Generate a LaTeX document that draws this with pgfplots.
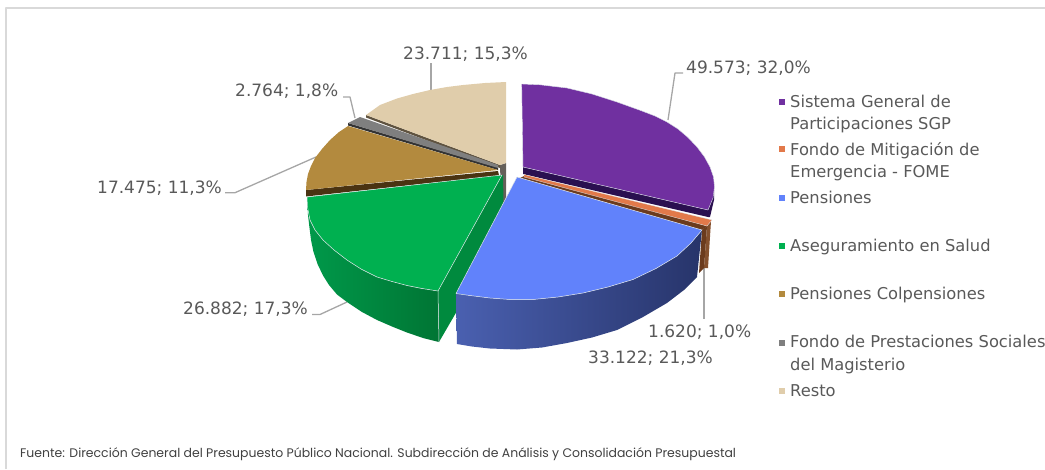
\documentclass[border=0pt]{standalone}
\usepackage{pgfplots}
\usepackage{fontspec}
\pgfplotsset{compat=1.18}
\setmainfont{DejaVu Sans}
\newfontfamily\footfont{Poppins}
\definecolor{txt}{HTML}{595959}
\definecolor{lead}{HTML}{A6A6A6}
\definecolor{edge}{HTML}{DDE3E8}
\definecolor{cPur}{HTML}{7030A0}
\definecolor{cPurD}{HTML}{2A1050}
\definecolor{cOra}{HTML}{E2794A}
\definecolor{cOraD}{HTML}{6B3B1E}
\definecolor{cOraM}{HTML}{84502E}
\definecolor{cBlu}{HTML}{6182FB}
\definecolor{cBluL}{HTML}{4A60B0}
\definecolor{cBluD}{HTML}{27346A}
\definecolor{cGre}{HTML}{00B050}
\definecolor{cGreM}{HTML}{008A3E}
\definecolor{cGreL}{HTML}{00994A}
\definecolor{cGreD}{HTML}{007534}
\definecolor{cGol}{HTML}{B38A3E}
\definecolor{cGolD}{HTML}{4A3312}
\definecolor{cGra}{HTML}{7F7F7F}
\definecolor{cGraD}{HTML}{333333}
\definecolor{cTan}{HTML}{E0CDAB}
\definecolor{cTanD}{HTML}{5F5340}
\definecolor{cTanM}{HTML}{65605A}
\definecolor{frame}{HTML}{D9D9D9}
\tikzset{lab/.style={anchor=base west,text=txt,font=\fontsize{17}{17}\selectfont,inner sep=0pt},
  leg/.style={anchor=base west,text=txt,font=\fontsize{16.3}{16.3}\selectfont,inner sep=0pt}}
\begin{document}
\begin{tikzpicture}[x=1pt,y=1pt]
\path[use as bounding box] (0,0) rectangle (1045pt,469pt);
\begin{axis}[
  at={(0,0)},anchor=south west,
  scale only axis,width=1045pt,height=469pt,
  xmin=0,xmax=1045,ymin=0,ymax=469,y dir=reverse,
  axis lines=none,clip=false,no marks,
  every axis plot/.append style={line join=round},
]
% frame
\addplot[frame,line width=1.5pt] coordinates {(6,469)(6,8)(1045,8)};
% leaders
\addplot[lead,line width=1.3pt] coordinates {(683,73)(675,73)(668,120)};
\addplot[lead,line width=1.3pt] coordinates {(431,63)(431,90)};
\addplot[lead,line width=1.3pt] coordinates {(343,97)(350,97)(355,118)};
\addplot[lead,line width=1.3pt] coordinates {(225,192.7)(235,192.7)(316,157)};
\addplot[lead,line width=1.3pt] coordinates {(312,314.5)(320,314.5)(347,302)};
\addplot[lead,line width=1.3pt] coordinates {(704,268)(704,319)};
% Resto
\addplot[fill=cTanM,draw=none] coordinates {(500,165)(506,163)(506,206)(502,206)(500,168)} --cycle;
\addplot[fill=cTanD,draw=none] coordinates {(366,115)(366,117.5)(500,168)(500,165)} --cycle;
\addplot[fill=cTan,draw=none] coordinates {(366,115)(380,105)(397,98.5)(413,94)(430,90)(447,87)(463,85)(485,83)(506,82)(506,163)(500,165)} --cycle;
% Magisterio
\addplot[fill=cGraD,draw=none] coordinates {(348,123)(348,125.5)(498,170)(498,167.5)} --cycle;
\addplot[fill=cGra,draw=none] coordinates {(348,123)(360,117)(498,165)(498,168)} --cycle;
% Colpensiones
\addplot[fill=cGolD,draw=none] coordinates {(306,190)(306,196.5)(499,175.5)(498,171)} --cycle;
\addplot[fill=cGol,draw=none] coordinates {(498,170)(348,126)(339,132)(330,140)(322,149)(315,158)(311,166)(308,174)(306.5,182)(306,190)} --cycle;
% SGP
\addplot[fill=cPurD,draw=none] coordinates {(708,210)(714,190)(714,200)(710,217)(708,217)} --cycle;
\addplot[fill=cPurD,draw=none] coordinates {(523,167)(708,210)(708,217)(523,174)} --cycle;
\addplot[fill=cPur,draw=edge,line width=0.4pt] coordinates {(523,167)(521.7,84)(540,84.8)(567,88)(592,94)(617,102)(642,111)(655,116)(667,122)(678,129)(688,137.5)(697,147)(704.5,157)(710,167)(713.5,177)(714.5,187)(713,198)(708,210)} --cycle;
% FOME
\addplot[fill=cOraM,draw=none] coordinates {(707,226)(711,221)(708,268)(704,268)} --cycle;
\addplot[fill=cOraD,draw=none] coordinates {(702,230)(707,226)(704,268)(699,273)} --cycle;
\addplot[fill=cOraD,draw=none] coordinates {(524,176)(707,226)(702,230)(520,178)} --cycle;
\addplot[fill=cOra,draw=edge,line width=0.3pt] coordinates {(524,174.5)(712,220)(707,226)(524,177)} --cycle;
% Salud
\addplot[fill=cGreM,draw=none] coordinates {(502,175)(438,291)(439,342)(504,230)(503,175)} --cycle;
\addplot[left color=cGreL,middle color=cGreL!45!cGreD,right color=cGreD,draw=none] coordinates {(307,197)(307.5,207)(310,220)(315,230)(323,240)(334,250)(347,260)(361,269)(377,277)(392,281.5)(407,285.5)(422,288.5)(438,291)(439,342)(423,338)(407,332.5)(392,326.5)(377,320)(362,312)(347,302)(337,294.5)(329,285)(323,275.5)(317.5,264)(313.5,252)(311,240)(309.5,228)(308,215)} --cycle;
\addplot[fill=cGre,draw=edge,line width=0.5pt] coordinates {(502,175)(307,197)(307.5,207)(310,220)(315,230)(323,240)(334,250)(347,260)(361,269)(377,277)(392,281.5)(407,285.5)(422,288.5)(438,291)} --cycle;
\addplot[edge,line width=0.5pt] coordinates {(438,291)(439,342)};
% Pensiones
\addplot[left color=cBluL,middle color=cBluD,right color=cBluD,draw=none] coordinates {(456,293.5)(470,295.5)(490,298)(510,299.5)(533,299.5)(558,297)(583,293)(608,287)(633,279.5)(656,268.5)(677,256)(691,243)(702,230)(697,277)(684,290)(667,303)(643,317)(617,330)(592,337.5)(567,343)(542,347.5)(517,349.5)(490,348.5)(472,346.5)(457,344)} --cycle;
\addplot[fill=cBlu,draw=edge,line width=0.5pt] coordinates {(517,177)(456,293.5)(470,295.5)(490,298)(510,299.5)(533,299.5)(558,297)(583,293)(608,287)(633,279.5)(656,268.5)(677,256)(691,243)(702,230)} --cycle;
% legend squares
\addplot[fill=cPur,draw=none] coordinates {(779,99)(785,99)(785,105)(779,105)} --cycle;
\addplot[fill=cOra,draw=none] coordinates {(779,146)(785,146)(785,152)(779,152)} --cycle;
\addplot[fill=cBlu,draw=none] coordinates {(779,195)(785,195)(785,201)(779,201)} --cycle;
\addplot[fill=cGre,draw=none] coordinates {(779,243)(785,243)(785,249)(779,249)} --cycle;
\addplot[fill=cGol,draw=none] coordinates {(779,291)(785,291)(785,297)(779,297)} --cycle;
\addplot[fill=cGra,draw=none] coordinates {(779,340)(785,340)(785,346)(779,346)} --cycle;
\addplot[fill=cTan,draw=none] coordinates {(779,388)(785,388)(785,394)(779,394)} --cycle;
% labels
\node[lab] at (axis cs:686,73) {49.573; 32,0\%};
\node[lab] at (axis cs:403,59) {23.711; 15,3\%};
\node[lab] at (axis cs:235,96.5) {2.764; 1,8\%};
\node[lab] at (axis cs:97,193) {17.475; 11,3\%};
\node[lab] at (axis cs:183,314) {26.882; 17,3\%};
\node[lab] at (axis cs:648,337) {1.620; 1,0\%};
\node[lab] at (axis cs:588,363) {33.122; 21,3\%};
% legend text
\node[leg] at (axis cs:790,107) {Sistema General de};
\node[leg] at (axis cs:790,129) {Participaciones SGP};
\node[leg] at (axis cs:790,155) {Fondo de Mitigación de};
\node[leg] at (axis cs:790,177) {Emergencia - FOME};
\node[leg] at (axis cs:790,203) {Pensiones};
\node[leg] at (axis cs:790,251) {Aseguramiento en Salud};
\node[leg] at (axis cs:790,299) {Pensiones Colpensiones};
\node[leg] at (axis cs:790,347) {Fondo de Prestaciones Sociales};
\node[leg] at (axis cs:790,370) {del Magisterio};
\node[leg] at (axis cs:790,396) {Resto};
% source
\node[anchor=base west,inner sep=0pt,text=black!75,font=\footfont\fontsize{12.45}{12.45}\selectfont] at (axis cs:20,457) {Fuente: Dirección General del Presupuesto Público Nacional. Subdirección de Análisis y Consolidación Presupuestal};
\end{axis}
\end{tikzpicture}
\end{document}
